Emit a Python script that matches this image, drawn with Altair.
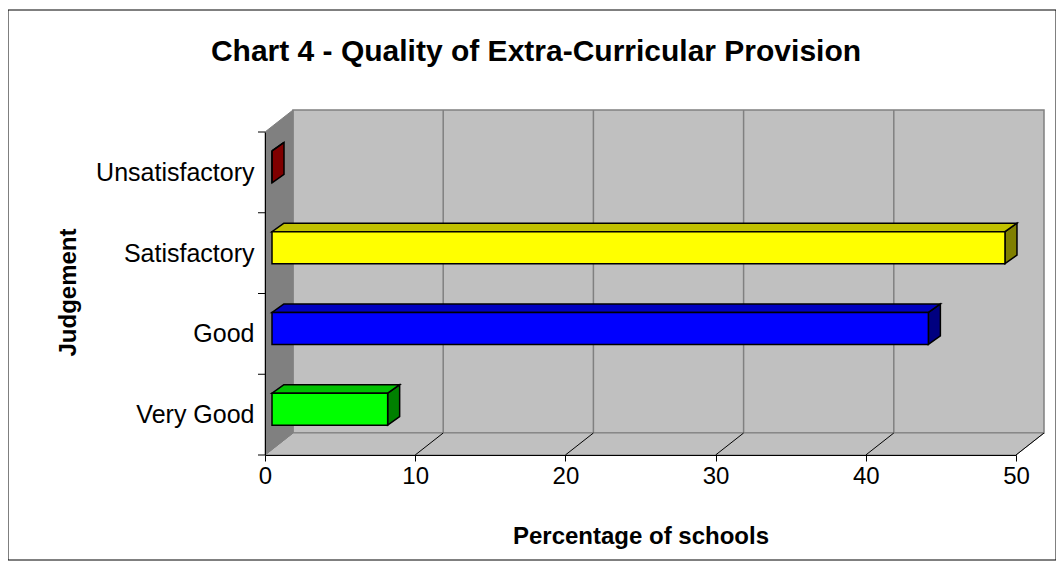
import altair as alt
import pandas as pd

# ---------------- data ----------------
categories = ["Very Good", "Good", "Satisfactory", "Unsatisfactory"]
values = [7.7, 43.7, 48.8, 0.0]
front_colors = ["#00ff00", "#0000ff", "#ffff00", "#800000"]
top_colors = ["#00c000", "#0000c0", "#c0c000", "#a00000"]
side_colors = ["#008000", "#000080", "#808000", "#800000"]
x_ticks = [0, 10, 20, 30, 40, 50]
title_text = "Chart 4 - Quality of Extra-Curricular Provision"
x_title = "Percentage of schools"
y_title = "Judgement"

# ---------------- geometry (pixel sizes converted to data units) ----------------
W, H = 751, 323
XMAX = 50
NCAT = len(categories)
PX = XMAX / W
PY = NCAT / H
WALL_DX, WALL_DY = 28 * PX, 22 * PY
BAR_FX, BAR_FY = 7 * PX, 5.5 * PY
BAR_DX, BAR_DY = 12 * PX, 8.5 * PY
BAR_HALF = 16 * PY
FONT = "Liberation Sans, Arial, sans-serif"

xs = alt.Scale(domain=[0, XMAX], nice=False, zero=False)
ys = alt.Scale(domain=[0, NCAT], nice=False, zero=False)

X_AXIS = alt.Axis(
    values=x_ticks, grid=False, tickSize=6, tickColor="black", domainColor="black",
    labelFontSize=24, labelFont=FONT, labelColor="black", labelPadding=3,
    labelFlush=False,
    title=x_title, titleFont=FONT, titleFontSize=24, titleFontWeight="bold",
    titleColor="black", titleX=W / 2, titleY=81, titleBaseline="middle",
    titleAlign="center", zindex=2)
Y_AXIS = alt.Axis(
    values=[i + 0.5 for i in range(NCAT)],
    labelExpr=" : ".join(f"datum.value == {i + 0.5} ? '{c}'" for i, c in enumerate(categories)) + " : ''",
    grid=False, ticks=False, tickSize=0, domainColor="black", labelPadding=11,
    labelFontSize=25, labelFont=FONT, labelColor="black",
    title=y_title, titleFont=FONT, titleFontSize=24, titleFontWeight="bold",
    titleColor="black", titleAngle=270, titleX=-197, titleY=160,
    titleAlign="center", titleBaseline="middle", zindex=2)


def X(f):
    return alt.X(f, scale=xs, axis=X_AXIS)


def Y(f):
    return alt.Y(f, scale=ys, axis=Y_AXIS)


# frame
frame = alt.Chart(pd.DataFrame({"a": [0]})).mark_rect(
    fill="white", stroke="black", strokeWidth=1
).encode(
    x=alt.value(-257), x2=alt.value(791), y=alt.value(-122), y2=alt.value(428)
)

# back wall
back_df = pd.DataFrame({"x": [WALL_DX], "x2": [XMAX + WALL_DX],
                        "y": [WALL_DY], "y2": [NCAT + WALL_DY]})
back = alt.Chart(back_df).mark_rect(fill="#c0c0c0", stroke="#808080", strokeWidth=1.5).encode(
    x=X("x:Q"), x2="x2:Q", y=Y("y:Q"), y2="y2:Q",
)

# floor
floor_df = pd.DataFrame({"y": [0, WALL_DY], "x": [0, WALL_DX], "x2": [XMAX, XMAX + WALL_DX]})
floor = alt.Chart(floor_df).mark_area(orient="horizontal", fill="#c0c0c0",
                                       stroke="#808080", strokeWidth=1).encode(
    y=Y("y:Q"), x=X("x:Q"), x2="x2:Q",
)

# left wall
left_df = pd.DataFrame({"x": [0, WALL_DX], "y": [0, WALL_DY], "y2": [NCAT, NCAT + WALL_DY]})
left = alt.Chart(left_df).mark_area(orient="vertical", fill="#808080",
                                     stroke="#808080", strokeWidth=1).encode(
    x=X("x:Q"), y=Y("y:Q"), y2="y2:Q",
)

# gridlines on back wall
grid_df = pd.DataFrame({"x": [t + WALL_DX for t in x_ticks[1:-1]],
                        "y": [WALL_DY] * (len(x_ticks) - 2),
                        "y2": [NCAT + WALL_DY] * (len(x_ticks) - 2)})
grid = alt.Chart(grid_df).mark_rule(color="#808080", strokeWidth=1.5).encode(
    x=X("x:Q"), y=Y("y:Q"), y2="y2:Q",
)

# gridlines on floor (diagonals)
fgrid_df = pd.DataFrame({"x": x_ticks[1:], "x2": [t + WALL_DX for t in x_ticks[1:]],
                         "y": [0] * (len(x_ticks) - 1), "y2": [WALL_DY] * (len(x_ticks) - 1)})
fgrid = alt.Chart(fgrid_df).mark_rule(color="black", strokeWidth=1).encode(
    x=X("x:Q"), x2="x2:Q", y=Y("y:Q"), y2="y2:Q",
)

# y tick marks at category boundaries
yt_df = pd.DataFrame({"y": list(range(NCAT + 1))})
yticks = alt.Chart(yt_df).mark_rule(color="black", strokeWidth=1).encode(
    y=Y("y:Q"), x=alt.value(-7), x2=alt.value(0),
)

# bars
front_rows, top_rows, side_rows = [], [], []
for i, (c, v) in enumerate(zip(categories, values)):
    yc = i + 0.5 + BAR_FY
    y0, y1 = yc - BAR_HALF, yc + BAR_HALF
    x0, x1 = BAR_FX, v + BAR_FX
    front_rows.append({"cat": c, "x": x0, "x2": x1, "y": y0, "y2": y1, "color": front_colors[i]})
    top_rows.append({"cat": c, "y": y1, "x": x0, "x2": x1, "color": top_colors[i]})
    top_rows.append({"cat": c, "y": y1 + BAR_DY, "x": x0 + BAR_DX, "x2": x1 + BAR_DX, "color": top_colors[i]})
    side_rows.append({"cat": c, "x": x1, "y": y0, "y2": y1, "color": side_colors[i]})
    side_rows.append({"cat": c, "x": x1 + BAR_DX, "y": y0 + BAR_DY, "y2": y1 + BAR_DY, "color": side_colors[i]})

front = alt.Chart(pd.DataFrame(front_rows)).mark_rect(stroke="black", strokeWidth=1.5).encode(
    x=X("x:Q"), x2="x2:Q", y=Y("y:Q"), y2="y2:Q",
    fill=alt.Fill("color:N", scale=None),
)
top = alt.Chart(pd.DataFrame(top_rows)).mark_area(orient="horizontal", stroke="black",
                                                   strokeWidth=1.5, opacity=1).encode(
    y=Y("y:Q"), x=X("x:Q"), x2="x2:Q",
    fill=alt.Fill("color:N", scale=None),
    detail="cat:N",
)
side = alt.Chart(pd.DataFrame(side_rows)).mark_area(orient="vertical", stroke="black",
                                                     strokeWidth=1.5, opacity=1).encode(
    x=X("x:Q"), y=Y("y:Q"), y2="y2:Q",
    fill=alt.Fill("color:N", scale=None),
    detail="cat:N",
)

title = alt.Chart(pd.DataFrame({"t": [title_text]})).mark_text(
    font=FONT, fontSize=30, fontWeight="bold", color="black", align="center",
    baseline="alphabetic"
).encode(text="t:N", x=alt.value(271), y=alt.value(-71))

chart = alt.layer(
    frame, back, floor, left, grid, fgrid, yticks, side, top, front, title
).properties(
    width=W, height=H,
    autosize=alt.AutoSizeParams(type="none"),
    padding={"left": 257, "top": 124, "right": 40, "bottom": 106},
).configure_view(stroke=None).configure(background="white")

chart.save("out.html", embed_options={"renderer": "svg", "actions": False})
